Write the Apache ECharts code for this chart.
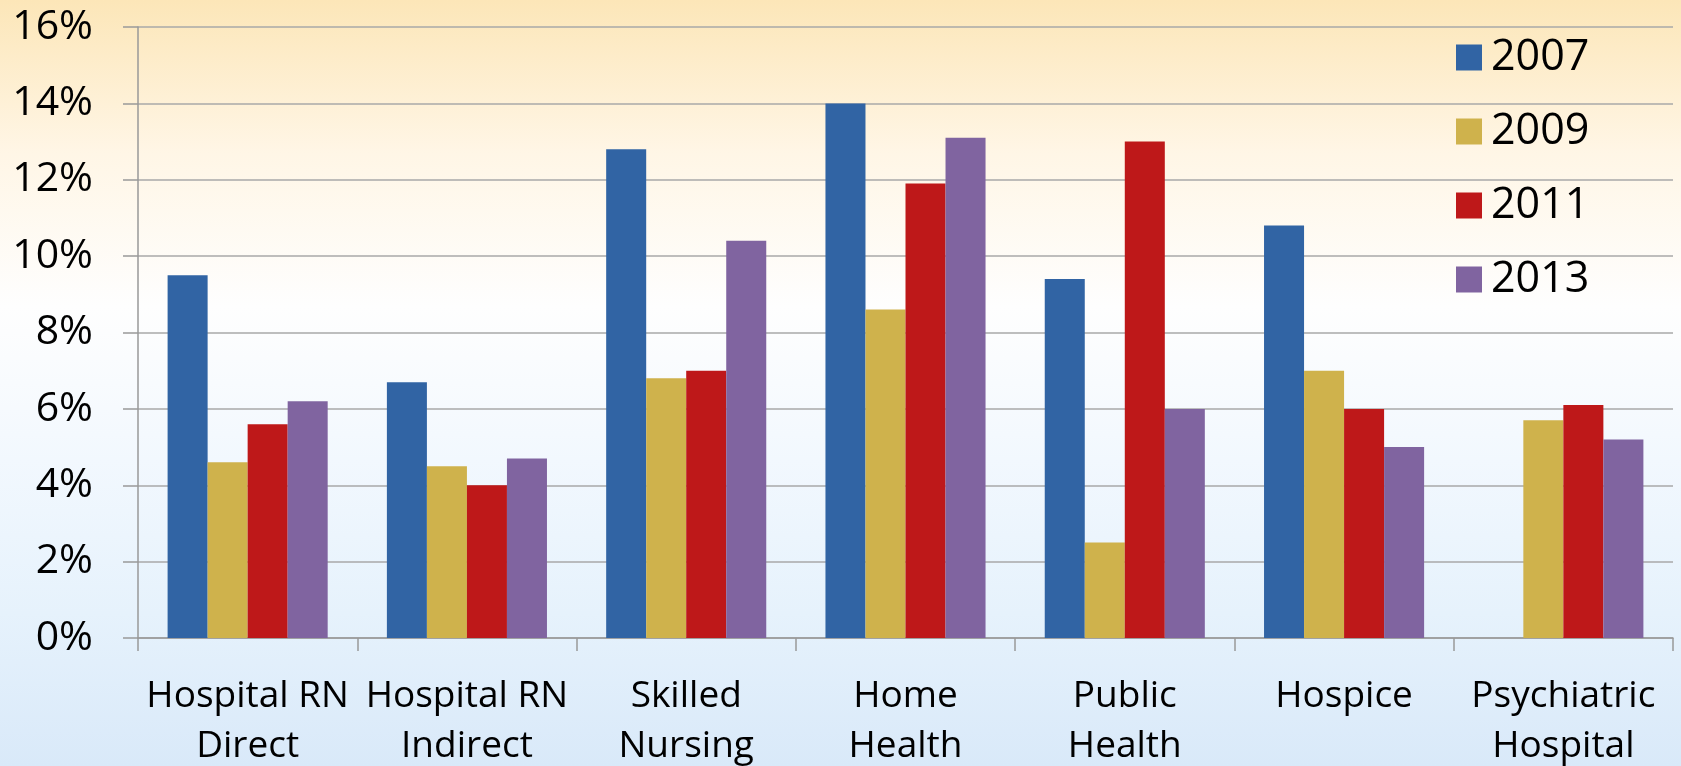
<!DOCTYPE html>
<html>
<head>
<meta charset="utf-8">
<script src="https://cdn.jsdelivr.net/npm/echarts@6/dist/echarts.min.js"></script>
<style>
html,body{margin:0;padding:0;width:1681px;height:766px;overflow:hidden;}
#c{width:1681px;height:766px;}
</style>
</head>
<body>
<div id="c"></div>
<script>
const categories = ["Hospital RN\nDirect", "Hospital RN\nIndirect", "Skilled\nNursing", "Home\nHealth", "Public\nHealth", "Hospice", "Psychiatric\nHospital"];
const seriesNames = ["2007", "2009", "2011", "2013"];
const v2007 = [9.5, 6.7, 12.8, 14.0, 9.4, 10.8, null];
const v2009 = [4.6, 4.5, 6.8, 8.6, 2.5, 7.0, 5.7];
const v2011 = [5.6, 4.0, 7.0, 11.9, 13.0, 6.0, 6.1];
const v2013 = [6.2, 4.7, 10.4, 13.1, 6.0, 5.0, 5.2];
const yTicks = [0, 2, 4, 6, 8, 10, 12, 14, 16];

const colors = ["#3164A4", "#CFB24C", "#BE1819", "#8064A0"];
const font = "Open Sans";
const chart = echarts.init(document.getElementById('c'));
const values = [v2007, v2009, v2011, v2013];
chart.setOption({
  backgroundColor: {
    type: 'linear', x: 0, y: 0, x2: 0, y2: 1,
    colorStops: [
      {offset: 0, color: '#FCE6B8'},
      {offset: 0.2, color: '#FFF6E6'},
      {offset: 0.4, color: '#FEFEFE'},
      {offset: 0.6, color: '#F2F8FE'},
      {offset: 0.8, color: '#E6F2FC'},
      {offset: 1, color: '#D9E9F9'}
    ]
  },
  animation: false,
  color: colors,
  grid: {left: 138, right: 8, top: 27, bottom: 128, containLabel: false, outerBoundsMode: 'none'},
  legend: {
    orient: 'vertical', left: 1451, top: 31,
    itemWidth: 26, itemHeight: 26, itemGap: 31,
    icon: 'rect',
    textStyle: {fontFamily: font, fontSize: 43, color: '#000', padding: [0, 0, 0, 4]},
    data: seriesNames
  },
  xAxis: {
    type: 'category', data: categories,
    axisLine: {lineStyle: {color: '#999', width: 1.5}},
    axisTick: {show: true, length: 13, lineStyle: {color: '#999', width: 1.5}},
    axisLabel: {fontFamily: font, fontSize: 37, color: '#000', lineHeight: 50, margin: 33, interval: 0}
  },
  yAxis: {
    type: 'value', min: 0, max: 16, interval: 2,
    axisLine: {show: true, lineStyle: {color: '#999', width: 1.5}},
    axisTick: {show: true, length: 15, lineStyle: {color: '#999', width: 1.5}},
    splitLine: {lineStyle: {color: '#A8A8A8', width: 1.5}},
    axisLabel: {fontFamily: font, fontSize: 41, color: '#000', margin: 45,
      formatter: v => yTicks.includes(v) ? v + '%' : ''}
  },
  series: seriesNames.map((n, i) => ({
    name: n, type: 'bar', data: values[i],
    barGap: '0%', barCategoryGap: '27%',
    itemStyle: {color: colors[i]}
  }))
});
</script>
</body>
</html>
